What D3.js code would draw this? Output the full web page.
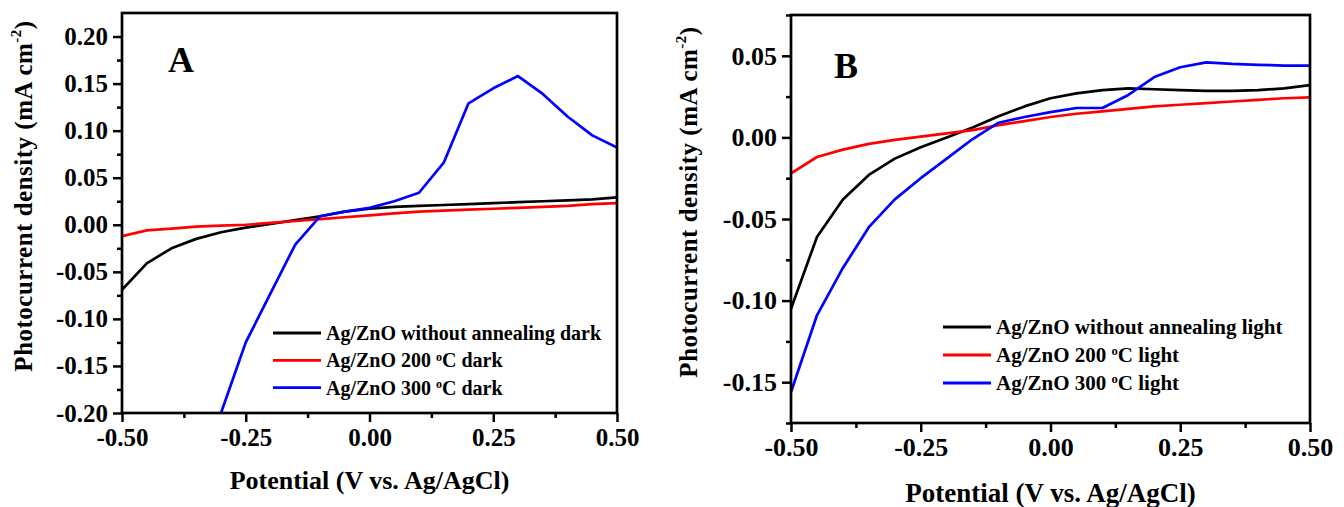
<!DOCTYPE html>
<html>
<head>
<meta charset="utf-8">
<script src="https://cdn.jsdelivr.net/npm/d3@7"></script>
<style>
  body { margin: 0; background: #fff; }
  text { font-family: "Liberation Serif", "Times New Roman", serif; font-weight: bold; fill: #000; }
</style>
</head>
<body>
<script>
// potential values (V vs Ag/AgCl), shared by every curve
var potential = [-0.50, -0.45, -0.40, -0.35, -0.30, -0.25, -0.20, -0.15, -0.10, -0.05, 0.00,
                 0.05, 0.10, 0.15, 0.20, 0.25, 0.30, 0.35, 0.40, 0.45, 0.50];

// panel A - dark current
var darkNoAnneal = [-0.069, -0.041, -0.025, -0.015, -0.008, -0.003, 0.001, 0.005, 0.009, 0.014, 0.017,
                    0.019, 0.020, 0.021, 0.022, 0.023, 0.024, 0.025, 0.026, 0.027, 0.029];
var dark200 = [-0.012, -0.006, -0.004, -0.002, -0.001, 0.000, 0.002, 0.004, 0.006, 0.008, 0.010,
               0.012, 0.014, 0.015, 0.016, 0.017, 0.018, 0.019, 0.020, 0.022, 0.023];
var dark300 = [null, null, null, null, -0.200, -0.125, -0.073, -0.021, 0.009, 0.014, 0.018,
               0.025, 0.034, 0.066, 0.129, 0.145, 0.158, 0.139, 0.115, 0.095, 0.082];

// panel B - under light
var lightNoAnneal = [-0.105, -0.061, -0.038, -0.023, -0.013, -0.006, 0.000, 0.006, 0.013, 0.019, 0.024,
                     0.027, 0.029, 0.030, 0.0295, 0.029, 0.0285, 0.0285, 0.029, 0.030, 0.032];
var light200 = [-0.022, -0.012, -0.0075, -0.004, -0.0015, 0.0005, 0.0025, 0.0045, 0.0075, 0.010, 0.0125,
                0.0145, 0.016, 0.0175, 0.019, 0.020, 0.021, 0.022, 0.023, 0.024, 0.0245];
var light300 = [-0.156, -0.109, -0.080, -0.055, -0.038, -0.025, -0.013, -0.001, 0.009, 0.0125, 0.0155,
                0.018, 0.018, 0.026, 0.037, 0.043, 0.046, 0.045, 0.0445, 0.044, 0.044];

var legendA = ["Ag/ZnO without annealing dark", "Ag/ZnO 200 °C dark", "Ag/ZnO 300 °C dark"];
var legendB = ["Ag/ZnO without annealing light", "Ag/ZnO 200 °C light", "Ag/ZnO 300 °C light"];
var seriesColors = ["#000000", "#ff0000", "#0000ff"];

// ticks
var xTicks = [-0.50, -0.25, 0.00, 0.25, 0.50];
var xMinor = [-0.375, -0.125, 0.125, 0.375];
var yTicksA = [-0.20, -0.15, -0.10, -0.05, 0.00, 0.05, 0.10, 0.15, 0.20];
var yMinorA = [-0.175, -0.125, -0.075, -0.025, 0.025, 0.075, 0.125, 0.175];
var yTicksB = [-0.15, -0.10, -0.05, 0.00, 0.05];
var yMinorB = [-0.175, -0.125, -0.075, -0.025, 0.025, 0.075];

var xTitle = "Potential (V vs. Ag/AgCl)";
var yTitle = "Photocurrent density (mA cm";

var svg = d3.select("body").append("svg")
    .attr("width", 1344)
    .attr("height", 507);

function fmt(d) {
    var s = d.toFixed(2);
    return s === "-0.00" ? "0.00" : s;
}

// writes a label, turning "°" into a raised small "o"
function degreeText(sel, str) {
    var parts = str.split("°");
    sel.append("tspan").text(parts[0]);
    if (parts.length > 1) {
        sel.append("tspan").attr("font-size", "0.6em").attr("dy", "-0.55em").text("o");
        sel.append("tspan").attr("dy", "0.33em").text(parts[1]);
    }
}

function drawPanel(p) {
    var x = d3.scaleLinear().domain([-0.5, 0.5]).range([p.left, p.right]);
    var y = d3.scaleLinear().domain(p.yDomain).range([p.bottom, p.top]);

    var g = svg.append("g");

    g.append("clipPath").attr("id", "clip" + p.name)
      .append("rect")
        .attr("x", p.left).attr("y", p.top)
        .attr("width", p.right - p.left).attr("height", p.bottom - p.top);

    // lines
    var line = d3.line()
        .defined(d => d[1] !== null)
        .x(d => x(d[0]))
        .y(d => y(d[1]));

    p.series.forEach(function (vals, i) {
        g.append("path")
            .datum(potential.map((v, k) => [v, vals[k]]))
            .attr("clip-path", "url(#clip" + p.name + ")")
            .attr("fill", "none")
            .attr("stroke", seriesColors[i])
            .attr("stroke-width", 2.7)
            .attr("stroke-linejoin", "round")
            .attr("d", line);
    });

    // axes
    g.append("g")
        .attr("transform", `translate(0, ${p.bottom})`)
        .call(d3.axisBottom(x).tickValues(xTicks).tickSize(9).tickPadding(6).tickFormat(fmt));
    g.append("g")
        .attr("transform", `translate(0, ${p.bottom})`)
        .call(d3.axisBottom(x).tickValues(xMinor).tickSize(5).tickFormat(""));
    g.append("g")
        .attr("transform", `translate(${p.left}, 0)`)
        .call(d3.axisLeft(y).tickValues(p.yTicks).tickSize(9).tickPadding(5).tickFormat(fmt));
    g.append("g")
        .attr("transform", `translate(${p.left}, 0)`)
        .call(d3.axisLeft(y).tickValues(p.yMinor).tickSize(5).tickFormat(""));

    g.selectAll(".domain").remove();
    g.selectAll(".tick line").attr("stroke", "#000").attr("stroke-width", 2.5);
    g.selectAll(".tick text")
        .attr("font-family", null)
        .attr("fill", "#000")
        .style("font-size", p.tickFont + "px");

    // frame
    g.append("rect")
        .attr("x", p.left).attr("y", p.top)
        .attr("width", p.right - p.left).attr("height", p.bottom - p.top)
        .attr("fill", "none")
        .attr("stroke", "#000")
        .attr("stroke-width", 2.7);

    // panel letter
    g.append("text")
        .attr("x", p.letterX).attr("y", p.letterY)
        .style("font-size", "36px")
        .text(p.name);

    // axis titles
    g.append("text")
        .attr("x", (p.left + p.right) / 2)
        .attr("y", p.xTitleY)
        .attr("text-anchor", "middle")
        .style("font-size", p.titleFont + "px")
        .text(xTitle);

    var yt = g.append("text")
        .attr("transform", `translate(${p.yTitleX}, ${p.yTitleMid}) rotate(-90)`)
        .attr("text-anchor", "middle")
        .style("font-size", p.yTitleFont + "px")
        .style("letter-spacing", "0.5px");
    yt.append("tspan").text(yTitle);
    yt.append("tspan").attr("font-size", "0.6em").attr("dy", "-0.75em").text("-2");
    yt.append("tspan").attr("dy", "0.45em").text(")");

    // legend
    p.legend.forEach(function (name, i) {
        var ly = p.legendY + i * p.legendStep;
        g.append("line")
            .attr("x1", p.legendX).attr("x2", p.legendX + 48)
            .attr("y1", ly).attr("y2", ly)
            .attr("stroke", seriesColors[i])
            .attr("stroke-width", 2.8);
        var t = g.append("text")
            .attr("x", p.legendX + 53)
            .attr("y", ly + 7)
            .style("font-size", p.legendFont + "px");
        degreeText(t, name);
    });
}

drawPanel({
    name: "A",
    left: 122, right: 617, top: 13, bottom: 413,
    yDomain: [-0.2, 0.225],
    yTicks: yTicksA, yMinor: yMinorA,
    series: [darkNoAnneal, dark200, dark300],
    legend: legendA,
    tickFont: 25, titleFont: 26, yTitleFont: 25, legendFont: 20,
    letterX: 168, letterY: 72,
    xTitleY: 489,
    yTitleX: 32, yTitleMid: 196,
    legendX: 273, legendY: 333, legendStep: 27.3
});

drawPanel({
    name: "B",
    left: 791, right: 1310, top: 15, bottom: 423,
    yDomain: [-0.175, 0.075],
    yTicks: yTicksB, yMinor: yMinorB,
    series: [lightNoAnneal, light200, light300],
    legend: legendB,
    tickFont: 26, titleFont: 27, yTitleFont: 25, legendFont: 21,
    letterX: 834, letterY: 78,
    xTitleY: 502,
    yTitleX: 697, yTitleMid: 202,
    legendX: 943, legendY: 327, legendStep: 28
});
</script>
</body>
</html>
